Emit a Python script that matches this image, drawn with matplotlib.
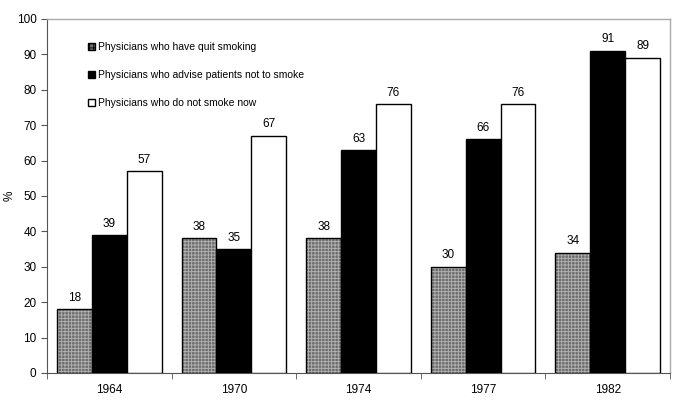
import matplotlib
matplotlib.use("Agg")
import matplotlib.pyplot as plt
import numpy as np
from matplotlib.patches import Patch

years = ["1964", "1970", "1974", "1977", "1982"]
quit_smoking = [18, 38, 38, 30, 34]
advise = [39, 35, 63, 66, 91]
not_smoke = [57, 67, 76, 76, 89]
labels = ["Physicians who have quit smoking",
          "Physicians who advise patients not to smoke",
          "Physicians who do not smoke now"]

plt.rcParams['font.family'] = ['Liberation Sans', 'DejaVu Sans']
plt.rcParams['hatch.linewidth'] = 0.6

fig = plt.figure(figsize=(6.85, 4.08), dpi=100)
ax = fig.add_axes([0.0686, 0.0858, 0.9095, 0.868])

x = np.arange(len(years))
w = 0.28

# hatched gray bars
ax.bar(x - w, quit_smoking, w, color="#6e6e6e", edgecolor="#b4b4b4", hatch="+++++", linewidth=0, zorder=2)
ax.bar(x - w, quit_smoking, w, facecolor="none", edgecolor="black", linewidth=1.0, zorder=3)
ax.bar(x, advise, w, color="black", edgecolor="black", linewidth=1.0, zorder=3)
ax.bar(x + w, not_smoke, w, color="white", edgecolor="black", linewidth=1.0, zorder=3)

for xs, vals in [(x - w, quit_smoking), (x, advise), (x + w, not_smoke)]:
    for xi, v in zip(xs, vals):
        ax.text(xi, v + 1.5, str(v), ha="center", va="bottom", fontsize=8.5)

ax.set_xlim(-0.5, len(years) - 0.5)
ax.set_ylim(0, 100)
ax.set_yticks(range(0, 101, 10))
ax.set_xticks(x)
ax.set_xticklabels(years)
ax.set_xticks(np.arange(-0.5, len(years)), minor=True)
ax.tick_params(axis="x", which="major", length=0, labelsize=8.5, pad=8)
ax.tick_params(axis="x", which="minor", length=4, direction="out", color="#555555")
ax.tick_params(axis="y", labelsize=8.5, length=4, direction="out", color="#555555")
ax.set_ylabel("%", fontsize=8.5, labelpad=1)

for s in ["top", "right"]:
    ax.spines[s].set_color("#aaaaaa")
    ax.spines[s].set_linewidth(1.0)
ax.spines["left"].set_color("#555555")
ax.spines["bottom"].set_color("#555555")

handles = [Patch(facecolor="#6e6e6e", edgecolor="black", hatch="++++"),
           Patch(facecolor="black", edgecolor="black"),
           Patch(facecolor="white", edgecolor="black")]
leg = ax.legend(handles, labels, loc="upper left", bbox_to_anchor=(0.05, 0.96),
                frameon=False, fontsize=7.5, handlelength=0.7, handleheight=0.7,
                labelspacing=1.7, handletextpad=0.3)

fig.savefig("out.png", dpi=100)
